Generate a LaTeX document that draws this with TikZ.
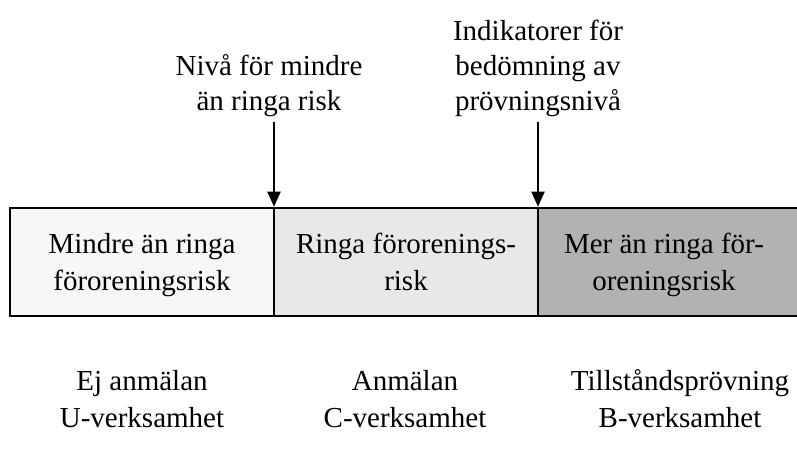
\documentclass[tikz,border=0pt]{standalone}
\usepackage{fontspec}
\setmainfont{Liberation Serif}
\usetikzlibrary{arrows.meta}
\definecolor{fillA}{gray}{0.97}
\definecolor{fillB}{gray}{0.91}
\definecolor{fillC}{gray}{0.70}
\newcommand{\topstrut}{\rule{0pt}{32pt}}
\tikzset{
  box/.style={draw=black, line width=2.6pt, minimum width=264pt, minimum height=108pt,
    inner sep=0pt, align=center, font=\fontsize{29}{37}\selectfont},
  lbl/.style={align=center, inner sep=0pt, font=\fontsize{29}{35}\selectfont},
  blbl/.style={align=center, inner sep=0pt, font=\fontsize{29}{37}\selectfont},
  arr/.style={line width=2pt, -{Triangle[length=15pt,width=13pt]}}
}
\begin{document}
\begin{tikzpicture}[x=1pt,y=-1pt]
\useasboundingbox (0,0) rectangle (797,452);
\clip (0,0) rectangle (797,452);
\node[box, fill=fillA] (L) at (142,262) {\topstrut Mindre än ringa\\\strut föroreningsrisk};
\node[box, fill=fillB] (M) at (406,262) {\topstrut Ringa förorenings-\\\strut risk};
\node[box, fill=fillC, minimum width=270pt] (R) at (673,262) {\hspace*{-18pt}\topstrut Mer än ringa för-\\\hspace*{-18pt}\strut oreningsrisk};
\node[lbl] (niva) at (269,86) {Nivå för mindre\\än ringa risk};
\node[lbl] (ind) at (538,68) {Indikatorer för\\bedömning av\\prövningsnivå};
\coordinate (a1) at (274,122);
\coordinate (a2) at (538,122);
\draw[arr] (a1) -- (a1 |- L.north);
\draw[arr] (a2) -- (a2 |- M.north);
\node[blbl] (u) at (142,399) {Ej anmälan\\U-verksamhet};
\node[blbl] (c) at (405,399) {Anmälan\\C-verksamhet};
\node[blbl] (b) at (680,399) {Tillståndsprövning\\B-verksamhet};
\end{tikzpicture}
\end{document}
